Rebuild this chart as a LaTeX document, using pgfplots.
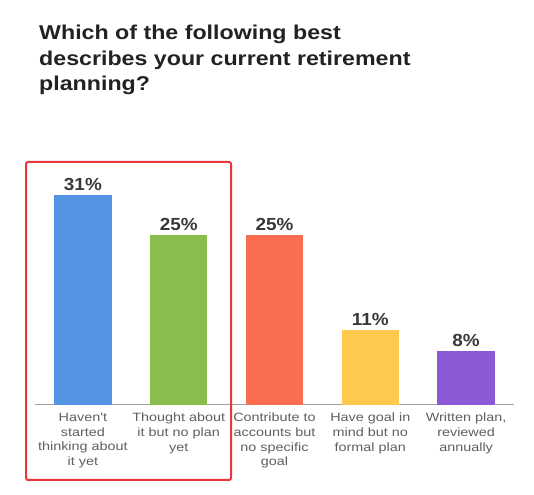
\documentclass[border=0pt]{standalone}
\usepackage{pgfplots}
\pgfplotsset{compat=1.18}
\usepackage{fontspec}
\setmainfont{Liberation Sans}
\newfontfamily\titlefont[FakeStretch=1.16]{Liberation Sans}
\newfontfamily\tickfont[FakeStretch=1.2]{Liberation Sans}
\newfontfamily\valfont[FakeStretch=1.08]{Liberation Sans}
\definecolor{cblue}{HTML}{5294E2}
\definecolor{cgreen}{HTML}{8BBD4E}
\definecolor{cred}{HTML}{FA6E4F}
\definecolor{cyellow}{HTML}{FFC94E}
\definecolor{cpurple}{HTML}{8A59D6}
\definecolor{redbox}{HTML}{E8373C}
\definecolor{titlecol}{HTML}{222222}
\definecolor{valcol}{HTML}{383838}
\definecolor{tickcol}{HTML}{5F5F5F}
\definecolor{axisgray}{HTML}{A0A0A0}
\begin{document}
\begin{tikzpicture}[x=1bp,y=1bp]
\path (0,0) rectangle (534,495);
\node[anchor=base west, inner sep=0pt, text=titlecol, font=\titlefont\bfseries\fontsize{20bp}{24bp}\selectfont] at (39,455) {Which of the following best};
\node[anchor=base west, inner sep=0pt, text=titlecol, font=\titlefont\bfseries\fontsize{20bp}{24bp}\selectfont] at (39,429.5) {describes your current retirement};
\node[anchor=base west, inner sep=0pt, text=titlecol, font=\titlefont\bfseries\fontsize{20bp}{24bp}\selectfont] at (39,404) {planning?};
\begin{axis}[
  at={(35bp,90bp)}, anchor=south west,
  scale only axis, width=479bp, height=271.2bp,
  xmin=-0.5, xmax=4.5, ymin=0, ymax=40,
  axis x line*=bottom, axis y line=none,
  x axis line style={-, draw=axisgray, line width=1bp},
  xtick={0,1,2,3,4},
  xticklabels={{Haven't\\started\\thinking about\\it yet},{Thought about\\it but no plan\\yet},{Contribute to\\accounts but\\no specific\\goal},{Have goal in\\mind but no\\formal plan},{Written plan,\\reviewed\\annually}},
  xtick style={draw=none},
  ytick=\empty,
  xticklabel style={align=center, anchor=north, inner sep=0pt, yshift=-8bp, text=tickcol, font=\tickfont\fontsize{12bp}{14.6bp}\selectfont},
  clip=false,
  /pgf/number format/assume math mode=true,
  nodes near coords={\pgfmathprintnumber[assume math mode=true]{\pgfplotspointmeta}\%},
  every node near coord/.append style={anchor=base, yshift=4.5bp, inner sep=0pt, text=valcol, font=\valfont\bfseries\fontsize{17.5bp}{20bp}\selectfont},
]
\addplot[ybar, bar shift=0pt, bar width=57.5bp, fill=cblue, draw=none] coordinates {(0,31)};
\addplot[ybar, bar shift=0pt, bar width=57.5bp, fill=cgreen, draw=none] coordinates {(1,25)};
\addplot[ybar, bar shift=0pt, bar width=57.5bp, fill=cred, draw=none] coordinates {(2,25)};
\addplot[ybar, bar shift=0pt, bar width=57.5bp, fill=cyellow, draw=none] coordinates {(3,11)};
\addplot[ybar, bar shift=0pt, bar width=57.5bp, fill=cpurple, draw=none] coordinates {(4,8)};
\end{axis}
\draw[draw=redbox, line width=2bp, rounded corners=2bp] (26,15) rectangle (231,333);
\end{tikzpicture}
\end{document}
